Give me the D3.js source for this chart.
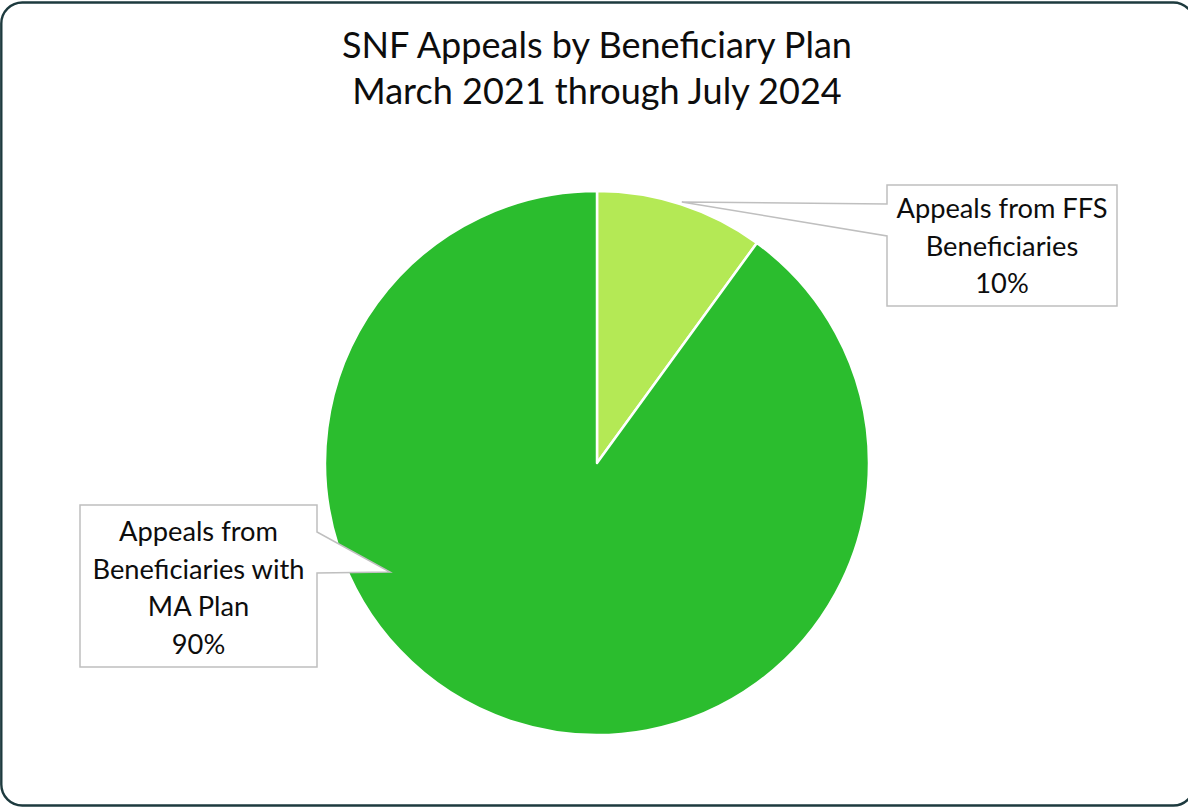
<!DOCTYPE html>
<html>
<head>
<meta charset="utf-8">
<script src="https://cdn.jsdelivr.net/npm/d3@7"></script>
<style>
  html, body { margin: 0; padding: 0; background: #ffffff; overflow: hidden; }
  svg { display: block; }
</style>
</head>
<body>
<svg id="chart" width="1188" height="807"></svg>
<script>
// ---- data ----
const titleLines = ["SNF Appeals by Beneficiary Plan", "March 2021 through July 2024"];
const categories = ["FFS", "MA"];
const categoryLabels = [
  ["Appeals from FFS", "Beneficiaries"],
  ["Appeals from", "Beneficiaries with", "MA Plan"]
];
const shares = [10, 90];          // percent of appeals
const sliceColors = ["#b4e955", "#2bbd2e"];

// ---- layout ----
const W = 1188, H = 807;
const FONT = "Lato, 'Open Sans', sans-serif";
const center = { x: 597, y: 463 };
const R = 272;
const lineGap = 37.5;

const svg = d3.select("#chart");

// outer frame with rounded corners
svg.append("rect")
  .attr("x", 1.3).attr("y", 2.5)
  .attr("width", 1193).attr("height", 803)
  .attr("rx", 21).attr("ry", 21)
  .attr("fill", "#ffffff")
  .attr("stroke", "#1d3a3e")
  .attr("stroke-width", 2.4);

// font size that makes a string span a given width
function fitSize(text, target) {
  const t = svg.append("text").attr("font-family", FONT).attr("font-size", 100).text(text);
  const w = t.node().getComputedTextLength();
  t.remove();
  return 100 * target / w;
}

const titleSize = fitSize(titleLines[0], 510);
const labelSize = fitSize("Beneficiaries with", 212);

// title
svg.append("g").selectAll("text")
  .data(titleLines)
  .join("text")
  .attr("x", 597)
  .attr("y", (d, i) => 58 + i * 46)
  .attr("text-anchor", "middle")
  .attr("font-family", FONT)
  .attr("font-size", titleSize)
  .attr("fill", "#0d0d0d")
  .text(d => d);

// pie
const data = categories.map((c, i) => ({ key: c, value: shares[i], lines: categoryLabels[i] }));
const pie = d3.pie().sort(null).value(d => d.value);
const arcs = pie(data);
const arc = d3.arc().innerRadius(0).outerRadius(R);

const gPie = svg.append("g").attr("transform", `translate(${center.x},${center.y})`);
gPie.selectAll("path.slice")
  .data(arcs)
  .join("path")
  .attr("class", "slice")
  .attr("d", arc)
  .attr("fill", (d, i) => sliceColors[i])
  .attr("stroke", "#ffffff")
  .attr("stroke-width", 2.5)
  .attr("stroke-linejoin", "round");

// callout boxes: box geometry, side of the pointer, and pointer anchor points
function midTip(a, r) {
  const ang = (a.startAngle + a.endAngle) / 2;
  return [center.x + r * Math.sin(ang), center.y - r * Math.cos(ang)];
}
const callouts = [
  { box: { x: 887, y: 185, w: 230, h: 121 }, side: "left",  y1: 204, y2: 236,
    tip: midTip(arcs[0], R + 2.5), firstBaseline: 218 },
  { box: { x: 80,  y: 505, w: 237, h: 162 }, side: "right", y1: 532, y2: 573,
    tip: [center.x - 207, center.y + 109], firstBaseline: 541 }
];

function calloutPath(c) {
  const { x, y, w, h } = c.box;
  const p = d3.path();
  if (c.side === "left") {
    p.moveTo(x, y);
    p.lineTo(x + w, y);
    p.lineTo(x + w, y + h);
    p.lineTo(x, y + h);
    p.lineTo(x, c.y2);
    p.lineTo(c.tip[0], c.tip[1]);
    p.lineTo(x, c.y1);
    p.closePath();
  } else {
    p.moveTo(x, y);
    p.lineTo(x + w, y);
    p.lineTo(x + w, c.y1);
    p.lineTo(c.tip[0], c.tip[1]);
    p.lineTo(x + w, c.y2);
    p.lineTo(x + w, y + h);
    p.lineTo(x, y + h);
    p.closePath();
  }
  return p.toString();
}

const gLabels = svg.append("g");
arcs.forEach((a, i) => {
  const c = callouts[i];
  gLabels.append("path")
    .attr("d", calloutPath(c))
    .attr("fill", "#ffffff")
    .attr("stroke", "#bfbfbf")
    .attr("stroke-width", 1.5)
    .attr("stroke-linejoin", "miter");

  const lines = a.data.lines.concat([`${a.data.value}%`]);
  gLabels.append("g").selectAll("text")
    .data(lines)
    .join("text")
    .attr("x", c.box.x + c.box.w / 2)
    .attr("y", (d, j) => c.firstBaseline + j * lineGap)
    .attr("text-anchor", "middle")
    .attr("font-family", FONT)
    .attr("font-size", labelSize)
    .attr("fill", "#0d0d0d")
    .text(d => d);
});
</script>
</body>
</html>
